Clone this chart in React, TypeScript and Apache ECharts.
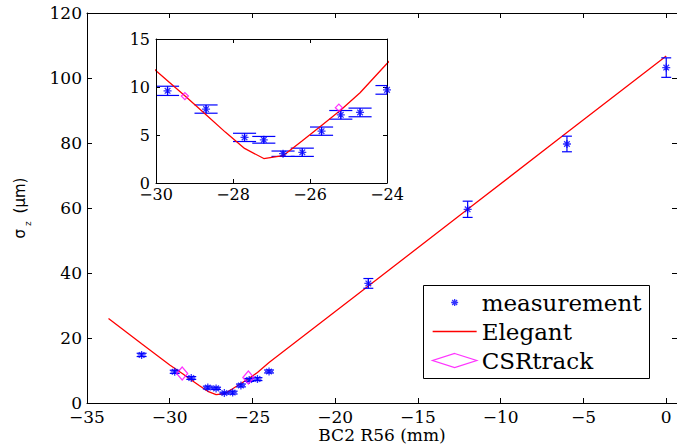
import React, { useEffect, useRef } from "react";
import * as echarts from "echarts";

const measX = [-31.7, -29.7, -28.7, -27.7, -27.2, -26.7, -26.2, -25.7, -25.2, -24.7, -24.0, -18.0, -12.0, -6.0, 0.0];
const measY = [14.8, 9.6, 7.7, 4.75, 4.5, 3.05, 3.2, 5.4, 7.1, 7.35, 9.7, 36.8, 59.6, 79.7, 103.2];
const measErr = [0.5, 0.48, 0.43, 0.43, 0.35, 0.28, 0.43, 0.43, 0.45, 0.45, 0.45, 1.5, 2.5, 2.4, 3.0];

const elegantX = [-33.7, -31.7, -30, -29.2, -28.7, -28.2, -27.7, -27.2, -26.7, -26.2, -25.7, -25.2, -24.7, -24, -18, -12, -6, 0];
const elegantY = [26.0, 18.2, 11.7, 8.9, 7.1, 5.3, 3.6, 2.55, 2.85, 4.4, 6.0, 7.6, 9.4, 12.45, 36.0, 59.6, 83.2, 106.8];

const csrX = [-29.25, -25.25];
const csrY = [9.05, 7.85];

const mainXTicks = [-35, -30, -25, -20, -15, -10, -5, 0];
const insetXTicks = [-30, -28, -26, -24];

const SERIF = "DejaVu Serif";
const SANS = "DejaVu Sans";
const ASTER = "path://M-20,-20M20,20M0,-10L0,10M-10,0L10,0M-7,-7L7,7M-7,7L7,-7";
const LINE_ICON = "path://M0,0L44,0L44,1.4L0,1.4Z";

function fmt(allowed: number[]) {
  return (v: number) => {
    const hit = allowed.find((t) => Math.abs(t - v) < 1e-6);
    if (hit === undefined) return "";
    return hit < 0 ? "\u2212" + Math.abs(hit) : String(hit);
  };
}

export default function App() {
  const ref = useRef<HTMLDivElement>(null);
  useEffect(() => {
    if (!ref.current) return;
    const chart = echarts.init(ref.current, undefined, { renderer: "svg" });
    const meas = measX.map((x, i) => [x, measY[i], measErr[i]]);
    const ele = elegantX.map((x, i) => [x, elegantY[i]]);
    const csr = csrX.map((x, i) => [x, csrY[i]]);

    const errRender = (params: any, api: any) => {
      const x = api.value(0), y = api.value(1), e = api.value(2);
      const t = api.coord([x, y + e]);
      const b = api.coord([x, y - e]);
      const l = api.coord([x - 0.3, y])[0];
      const r = api.coord([x + 0.3, y])[0];
      const st = { stroke: "#0000ff", lineWidth: 1.2 };
      return {
        type: "group",
        children: [
          { type: "line", shape: { x1: t[0], y1: t[1], x2: b[0], y2: b[1] }, style: st },
          { type: "line", shape: { x1: l, y1: t[1], x2: r, y2: t[1] }, style: st },
          { type: "line", shape: { x1: l, y1: b[1], x2: r, y2: b[1] }, style: st },
        ],
      };
    };

    const axisLine = { show: true, onZero: false, lineStyle: { color: "#000", width: 1 } };
    const tickIn = (len: number) => ({ show: true, inside: true, length: len, lineStyle: { color: "#000" } });

    const option: any = {
      animation: false,
      backgroundColor: "#fff",
      grid: [
        { left: 87, top: 13, width: 590, height: 390, show: false, outerBoundsMode: "none", containLabel: false },
        { left: 156, top: 39, width: 231, height: 144, show: true, backgroundColor: "#fff", borderWidth: 0, z: 10, outerBoundsMode: "none", containLabel: false },
      ],
      xAxis: [
        {
          gridIndex: 0, type: "value", min: -35, max: 0.65, interval: 5, position: "bottom",
          axisLine, axisTick: tickIn(5), splitLine: { show: false },
          axisLabel: { formatter: fmt(mainXTicks), fontFamily: SERIF, fontSize: 17, color: "#000", margin: 5 },
          name: "BC2 R56 (mm)", nameLocation: "middle", nameGap: 23, nameMoveOverlap: false,
          nameTextStyle: { fontFamily: SERIF, fontSize: 17, color: "#000" },
        },
        {
          gridIndex: 0, type: "value", min: -35, max: 0.65, interval: 5, position: "top",
          axisLine, axisTick: tickIn(5), splitLine: { show: false }, axisLabel: { show: false },
        },
        {
          gridIndex: 1, type: "value", min: -30, max: -24, interval: 2, position: "bottom", z: 12,
          axisLine, axisTick: tickIn(4), splitLine: { show: false },
          axisLabel: { formatter: fmt(insetXTicks), fontFamily: SERIF, fontSize: 16, color: "#000", margin: 3 },
        },
        {
          gridIndex: 1, type: "value", min: -30, max: -24, interval: 2, position: "top", z: 12,
          axisLine, axisTick: tickIn(4), splitLine: { show: false }, axisLabel: { show: false },
        },
      ],
      yAxis: [
        {
          gridIndex: 0, type: "value", min: 0, max: 120, interval: 20, position: "left",
          axisLine, axisTick: tickIn(5), splitLine: { show: false },
          axisLabel: { fontFamily: SERIF, fontSize: 17, color: "#000", margin: 5 },
          name: "{a|\u03c3}{sub|z}{a| (\u03bcm)}", nameLocation: "middle", nameRotate: 90, nameGap: 55,
          nameTextStyle: {
            color: "#000",
            rich: {
              a: { fontFamily: SANS, fontSize: 15, color: "#000", lineHeight: 24, verticalAlign: "middle" },
              sub: { fontFamily: SANS, fontSize: 9, color: "#000", lineHeight: 24, verticalAlign: "bottom", padding: [0, 3, 0, 3] },
            },
          },
        },
        {
          gridIndex: 0, type: "value", min: 0, max: 120, interval: 20, position: "right",
          axisLine, axisTick: tickIn(5), splitLine: { show: false }, axisLabel: { show: false },
        },
        {
          gridIndex: 1, type: "value", min: 0, max: 15, interval: 5, position: "left", z: 12,
          axisLine, axisTick: tickIn(4), splitLine: { show: false },
          axisLabel: { fontFamily: SERIF, fontSize: 16, color: "#000", margin: 6 },
        },
        {
          gridIndex: 1, type: "value", min: 0, max: 15, interval: 5, position: "right", z: 12,
          axisLine, axisTick: tickIn(4), splitLine: { show: false }, axisLabel: { show: false },
        },
      ],
      legend: {
        left: 432, top: 291, orient: "vertical", padding: 0, itemGap: 6, itemWidth: 44, itemHeight: 14,
        textStyle: { fontFamily: SERIF, fontSize: 23, color: "#000" },
        itemStyle: { borderWidth: 1.3 },
        data: [
          { name: "measurement" },
          { name: "Elegant", icon: LINE_ICON, itemStyle: { color: "#ff0000", borderWidth: 0 } },
          { name: "CSRtrack" },
        ],
        z: 20,
      },
      graphic: [
        {
          type: "rect", left: 423, top: 285, z: 15,
          shape: { width: 226, height: 93 },
          style: { fill: "#fff", stroke: "#000", lineWidth: 1 },
        },
      ],
      series: [
        {
          name: "Elegant", type: "line", xAxisIndex: 0, yAxisIndex: 0, data: ele,
          symbol: "none", showSymbol: false, lineStyle: { color: "#ff0000", width: 1.3 }, itemStyle: { color: "#ff0000" }, z: 3,
        },
        {
          name: "errMain", type: "custom", xAxisIndex: 0, yAxisIndex: 0, data: meas, renderItem: errRender, z: 4,
        },
        {
          name: "measurement", type: "scatter", xAxisIndex: 0, yAxisIndex: 0, data: meas.map((d) => [d[0], d[1]]),
          symbol: ASTER, symbolSize: 16,
          itemStyle: { color: "#0000ff", borderColor: "#0000ff", borderWidth: 1.3 }, z: 5,
        },
        {
          name: "CSRtrack", type: "scatter", xAxisIndex: 0, yAxisIndex: 0, data: csr,
          symbol: "diamond", symbolSize: [11, 13],
          itemStyle: { color: "rgba(0,0,0,0)", borderColor: "#ff00ff", borderWidth: 1.3 }, z: 6,
        },
        {
          name: "Elegant", type: "line", xAxisIndex: 2, yAxisIndex: 2, data: ele,
          symbol: "none", showSymbol: false, lineStyle: { color: "#ff0000", width: 1.3 }, itemStyle: { color: "#ff0000" }, z: 11, clip: true,
        },
        {
          name: "errInset", type: "custom", xAxisIndex: 2, yAxisIndex: 2, data: meas, renderItem: errRender, z: 11, clip: true,
        },
        {
          name: "measurement", type: "scatter", xAxisIndex: 2, yAxisIndex: 2, data: meas.map((d) => [d[0], d[1]]),
          symbol: ASTER, symbolSize: 16, clip: true,
          itemStyle: { color: "#0000ff", borderColor: "#0000ff", borderWidth: 1.3 }, z: 12,
        },
        {
          name: "CSRtrack", type: "scatter", xAxisIndex: 2, yAxisIndex: 2, data: csr,
          symbol: "diamond", symbolSize: 7, clip: true,
          itemStyle: { color: "rgba(0,0,0,0)", borderColor: "#ff00ff", borderWidth: 1.3 }, z: 12,
        },
      ],
    };
    chart.setOption(option);
    return () => chart.dispose();
  }, []);
  return (
    <div
      ref={ref}
      style={{ position: "fixed", left: 0, top: 0, width: 677, height: 444 }}
    />
  );
}
